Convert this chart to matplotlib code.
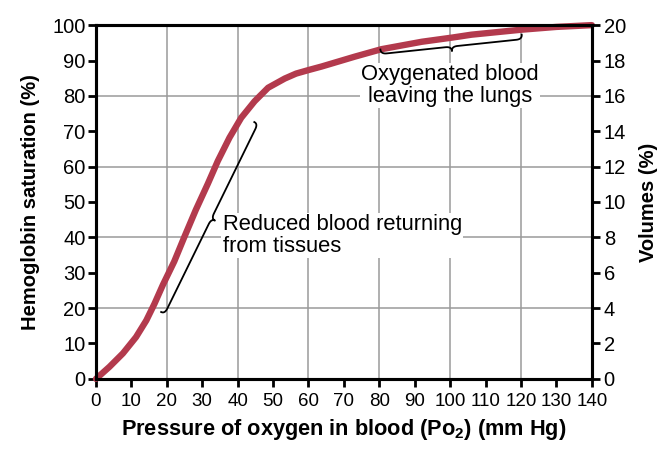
import matplotlib
matplotlib.use("Agg")
import matplotlib.pyplot as plt
import numpy as np

plt.rcParams['font.family'] = ['Liberation Sans', 'DejaVu Sans']
plt.rcParams['mathtext.fontset'] = 'custom'
plt.rcParams['mathtext.rm'] = 'Liberation Sans:bold'

# oxygen-hemoglobin dissociation curve
po2 = [0, 3.8, 7.6, 11.3, 14.2, 16.5, 18.9, 22.1, 24.9, 28.2, 31.6, 34.4, 37.7, 41,
       44.8, 48.6, 53.3, 56.5, 60, 63.7, 68.4, 73.1, 80.6, 92, 100.7, 106, 120, 130, 140]
saturation = [0, 3.4, 7.2, 11.8, 16.5, 21.2, 26.6, 33.2, 40, 47.8, 55.2, 61.6, 68.2, 73.8,
              78.5, 82.3, 84.9, 86.3, 87.3, 88.3, 89.7, 91.1, 93.2, 95.3, 96.5, 97.3, 98.7,
              99.5, 100]

x_ticks = list(range(0, 141, 10))
y_ticks = list(range(0, 101, 10))
vol_ticks = list(range(0, 21, 2))

# brace ends (po2, saturation) and labels
reduced_brace = [(18.4, 18.9), (44.7, 72.6)]
oxy_brace = [(80.3, 93.1), (120.2, 97.3)]
reduced_text = "Reduced blood returning\nfrom tissues"
oxy_text = "Oxygenated blood\nleaving the lungs"

fig = plt.figure(figsize=(6.62, 4.57), dpi=100)
ax = fig.add_axes([0.145, 0.171, 0.749, 0.774])

ax.set_xlim(0, 140)
ax.set_ylim(0, 100)

for gx in range(20, 140, 20):
    ax.axvline(gx, color='#9a9a9a', lw=1.1, zorder=1)
for gy in range(20, 100, 20):
    ax.axhline(gy, color='#9a9a9a', lw=1.1, zorder=1)

ax.plot(po2, saturation, color='#b33a4d', lw=4.6, solid_capstyle='round',
        solid_joinstyle='round', zorder=3, clip_on=False)

for s in ax.spines.values():
    s.set_linewidth(2.2)
    s.set_zorder(4)

ax.set_xticks(x_ticks)
ax.set_yticks(y_ticks)
ax.tick_params(axis='x', labelsize=13.5, width=2, length=5.5, pad=5)
ax.tick_params(axis='y', labelsize=14.5, width=2, length=5.5, pad=2)

ax2 = ax.twinx()
ax2.set_ylim(0, 20)
ax2.set_yticks(vol_ticks)
ax2.tick_params(axis='y', labelsize=14.5, width=2, length=5.5, pad=3)
for s in ax2.spines.values():
    s.set_linewidth(2.2)

ax.set_xlabel(r'Pressure of oxygen in blood (Po$_{2}$) (mm Hg)', fontsize=15.7,
              fontweight='bold', labelpad=5)
ax.set_ylabel('Hemoglobin saturation (%)', fontsize=14.5, fontweight='bold', labelpad=9)
ax2.set_ylabel('Volumes (%)', fontsize=14.5, fontweight='bold', labelpad=9)


def brace(a, p0, p1, w=8, side=1):
    # curly brace between two data points, drawn in pixel space
    t = a.transData
    q0 = np.array(t.transform(p0))
    q1 = np.array(t.transform(p1))
    d = q1 - q0
    L = np.hypot(*d)
    u = d / L
    n = np.array([-u[1], u[0]]) * side
    h = min(6, L / 10)

    def bez(a0, c, a1):
        s = np.linspace(0, 1, 12)[:, None]
        return (1 - s) ** 2 * a0 + 2 * (1 - s) * s * c + s ** 2 * a1

    P = lambda along, off: q0 + u * along + n * off
    parts = [
        bez(P(0, 0), P(0, w / 2), P(h, w / 2)),
        bez(P(h, w / 2), P(L / 2 - h, w / 2), P(L / 2 - h, w / 2)),
        bez(P(L / 2 - h, w / 2), P(L / 2, w / 2), P(L / 2, w)),
        bez(P(L / 2, w), P(L / 2, w / 2), P(L / 2 + h, w / 2)),
        bez(P(L / 2 + h, w / 2), P(L - h, w / 2), P(L - h, w / 2)),
        bez(P(L - h, w / 2), P(L, w / 2), P(L, 0)),
    ]
    pts = np.vstack(parts)
    data = t.inverted().transform(pts)
    a.plot(data[:, 0], data[:, 1], color='black', lw=1.3, zorder=5, clip_on=False)


brace(ax, reduced_brace[0], reduced_brace[1], w=8, side=-1)
brace(ax, oxy_brace[0], oxy_brace[1], w=9, side=-1)

ax.text(35.8, 40.5, reduced_text, fontsize=15.8, ha='left', va='center',
        linespacing=1.05, zorder=2,
        bbox=dict(facecolor='white', edgecolor='none', pad=1))
ax.text(100, 83, oxy_text, fontsize=15.8, ha='center', va='center',
        linespacing=1.05, zorder=2,
        bbox=dict(facecolor='white', edgecolor='none', pad=1))

fig.savefig('out.png', dpi=100)
